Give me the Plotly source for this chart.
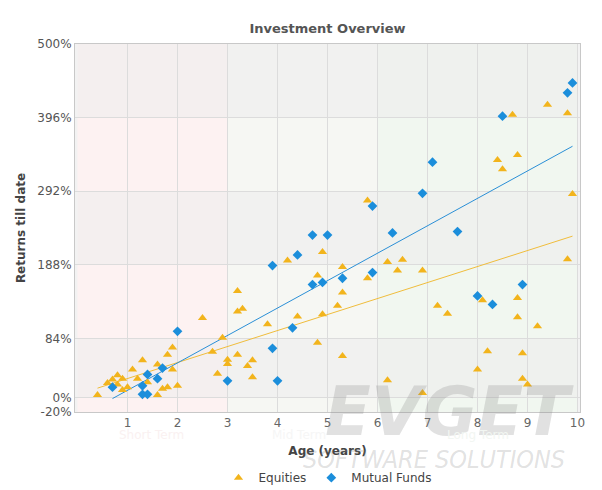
import plotly.graph_objects as go

# ---------------- data ----------------
chart_title = "Investment Overview"
x_title = "Age (years)"
y_title = "Returns till date"

equities_age = [0.4, 0.6, 0.7, 0.8, 0.9, 0.8, 0.9, 1.0, 1.1, 1.2, 1.3, 1.4, 1.6, 1.6, 1.7, 1.8, 1.8, 1.9, 1.9, 2.0,
                2.5, 2.7, 2.8, 2.9, 3.0, 3.0, 3.2, 3.2, 3.2, 3.3, 3.4, 3.5, 3.5, 3.8, 4.2, 4.4, 4.8, 4.8, 4.9, 4.9,
                5.3, 5.3, 5.2, 5.3, 5.8, 6.2, 6.5, 6.4, 6.9, 6.2, 6.9, 7.2, 7.4, 8.1, 8.2, 8.0, 8.8, 8.8, 8.9, 8.9,
                9.0, 9.2, 9.8, 9.4, 9.8, 8.7, 8.4, 8.5, 8.8, 9.9, 5.8]
equities_return = [4, 21, 26, 32, 27, 19, 11, 15, 40, 27, 53, 22, 47, 4, 13, 15, 61, 71, 40, 17,
                   113, 65, 34, 85, 54, 48, 61, 151, 122, 126, 45, 53, 29, 104, 194, 115, 173, 78, 206, 118,
                   185, 149, 130, 59, 169, 192, 195, 180, 180, 25, 7, 130, 119, 138, 66, 40, 141, 114, 63, 27,
                   19, 101, 196, 414, 402, 400, 336, 323, 343, 288, 279]

funds_age = [0.7, 1.3, 1.3, 1.4, 1.4, 1.6, 1.7, 2.0, 3.0, 3.9, 4.0, 3.9, 4.3, 4.4, 4.7, 5.0, 4.7, 4.9,
             6.3, 7.6, 5.3, 5.9, 8.0, 8.3, 8.9, 9.9, 9.8, 8.5, 7.1, 6.9, 5.9]
funds_return = [15, 17, 5, 5, 33, 27, 42, 94, 24, 70, 24, 187, 99, 202, 230, 230, 160, 163,
                233, 235, 169, 177, 144, 132, 160, 445, 431, 398, 333, 289, 271]

equities_trend_age = [0.4, 9.9]
equities_trend_return = [13.7, 228.5]
funds_trend_age = [0.7, 9.9]
funds_trend_return = [-1.0, 355.5]

y_ticks = [-20, 0, 84, 188, 292, 396, 500]
y_tick_labels = [f"{v}%" for v in y_ticks]
x_ticks = [1, 2, 3, 4, 5, 6, 7, 8, 9, 10]

term_names = ["Short Term", "Mid Term", "Long Term"]
term_starts = [0, 3, 6]
term_ends = [3, 6, 10]
term_label_pos = [1.48, 4.42, 8.0]

# ---------------- style ----------------
FONT = "DejaVu Sans"
ORANGE = "#f2b41c"
BLUE = "#1b8edb"
band_dark = ["#f4efef", "#f1f1f0", "#eff1ee"]
band_light = ["#fdf2f2", "#f6f7f3", "#f1f7f0"]
label_colors = ["#faf1f1", "#f6f6f6", "#f2f6f2"]
WM = "rgba(130,130,130,0.24)"

fig = go.Figure()

fig.add_trace(go.Scatter(x=equities_trend_age, y=equities_trend_return, mode="lines",
                         line=dict(color="#f0bd3c", width=1), showlegend=False, hoverinfo="skip"))
fig.add_trace(go.Scatter(x=funds_trend_age, y=funds_trend_return, mode="lines",
                         line=dict(color="#2a8fd6", width=1), showlegend=False, hoverinfo="skip"))
fig.add_trace(go.Scatter(x=equities_age, y=equities_return, mode="markers", name="Equities",
                         marker=dict(symbol="triangle-up", size=8, color=ORANGE, line=dict(width=0))))
fig.add_trace(go.Scatter(x=funds_age, y=funds_return, mode="markers", name="Mutual Funds",
                         marker=dict(symbol="diamond", size=7.5, color=BLUE, line=dict(width=0))))

shapes = []
for ci in range(len(term_names)):
    for ri in range(len(y_ticks) - 1):
        col = band_light[ci] if ri % 2 == 0 else band_dark[ci]
        shapes.append(dict(type="rect", xref="x", yref="y", layer="below",
                           x0=term_starts[ci], x1=term_ends[ci], y0=y_ticks[ri], y1=y_ticks[ri + 1],
                           fillcolor=col, line=dict(width=0)))

annotations = [
    dict(text="EVGET", xref="paper", yref="paper", x=0.741, y=0.0,
         xanchor="center", yanchor="middle", showarrow=False,
         font=dict(family=FONT, size=67, color=WM, weight="bold", style="italic")),
    dict(text="SOFTWARE SOLUTIONS", xref="paper", yref="paper", x=0.711, y=-0.13,
         xanchor="center", yanchor="middle", showarrow=False,
         font=dict(family="DejaVu Sans Condensed, DejaVu Sans", size=25, color=WM, style="italic")),
]
for name, pos, c in zip(term_names, term_label_pos, label_colors):
    annotations.append(dict(text=name, xref="x", yref="paper", x=pos, y=-0.0625,
                            xanchor="center", yanchor="middle", showarrow=False,
                            font=dict(family=FONT, size=12, color=c)))

fig.update_layout(
    width=602, height=490,
    margin=dict(l=75, r=22, t=44, b=78),
    paper_bgcolor="white",
    plot_bgcolor="#f2f2f2",
    font=dict(family=FONT, size=12, color="#555555"),
    title=dict(text="<b>" + chart_title + "</b>", x=0.5, xref="paper", y=1 - 28 / 490,
               yref="container", xanchor="center", yanchor="middle",
               font=dict(family=FONT, size=13, color="#555555")),
    xaxis=dict(range=[-0.05, 10.05], tickvals=x_ticks, showgrid=True, gridcolor="#dcdcdc", gridwidth=1,
               zeroline=False, showline=True, mirror=True, linecolor="#c8c8c8", linewidth=1,
               automargin=False,
               tickfont=dict(family=FONT, size=12, color="#666666"),
               title=dict(text="<b>" + x_title + "</b>", standoff=17,
                          font=dict(family=FONT, size=12, color="#444444"))),
    yaxis=dict(range=[-20, 500], tickvals=y_ticks, ticktext=y_tick_labels, showgrid=True,
               gridcolor="#dcdcdc", automargin=False,
               gridwidth=1, zeroline=False, showline=True, mirror=True, linecolor="#c8c8c8", linewidth=1,
               tickfont=dict(family=FONT, size=12, color="#555555"),
               title=dict(text="<b>" + y_title + "</b>", standoff=9,
                          font=dict(family=FONT, size=12, color="#444444"))),
    legend=dict(orientation="h", x=0.5, xanchor="center", yref="container", y=1 - 477.7 / 490,
                yanchor="middle",
                font=dict(family=FONT, size=12, color="#444444"), itemwidth=30,
                bgcolor="rgba(0,0,0,0)"),
    shapes=shapes,
    annotations=annotations,
    showlegend=True,
)

fig.write_html("out.html")
